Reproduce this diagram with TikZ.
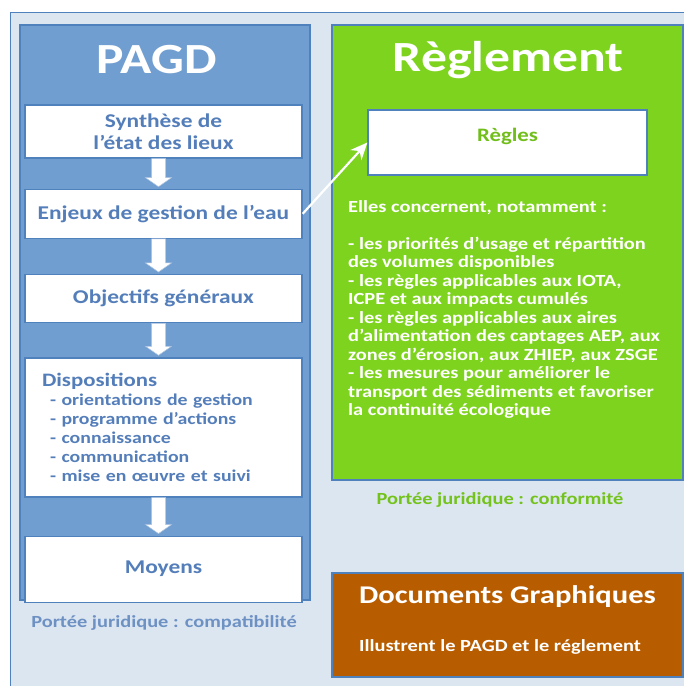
\documentclass[tikz,border=0pt]{standalone}
\usepackage{fontspec}
\setmainfont{Carlito}[FakeStretch=1.2]
\usetikzlibrary{positioning, arrows.meta, calc}

\definecolor{framebg}{RGB}{220,230,241}
\definecolor{frameline}{RGB}{79,129,189}
\definecolor{pagdblue}{RGB}{113,158,208}
\definecolor{pagdtext}{RGB}{84,126,186}
\definecolor{reglgreen}{RGB}{126,211,30}
\definecolor{docorange}{RGB}{184,92,0}

\begin{document}
\begin{tikzpicture}[
    x=1pt, y=-1pt,
    panel/.style={draw=frameline, line width=1.5pt, inner sep=0pt},
    pagdbox/.style={draw=frameline, line width=1.3pt, fill=white, minimum width=277pt, align=center, text=pagdtext, font=\fontsize{19.5}{21.5}\selectfont\bfseries},
    title/.style={text=white, font=\fontsize{43}{46}\selectfont\bfseries},
    downarrow/.style={draw=frameline!45, line width=0.5pt, fill=white},
    link/.style={-{Stealth[length=17pt, width=15pt]}, draw=white, line width=2.2pt}
]

% background frame
\useasboundingbox (0,0) rectangle (684,686);
\draw[fill=framebg, draw=frameline, line width=1pt] (10,12) rectangle (700,700);

% PAGD column
\node[panel, fill=pagdblue, minimum width=290pt, minimum height=575pt] (pagd) at (165,312.5) {};
\node[title] (pagdtitle) at (157,60) {PAGD};

\node[pagdbox, minimum height=53pt] (synth) at (163.5,131.5) {Synthèse de\\l’état des lieux};
\node[pagdbox, minimum height=49pt, below=30pt of synth] (enjeux) {Enjeux de gestion de l’eau};
\node[pagdbox, minimum height=48pt, below=35pt of enjeux] (objectifs) {Objectifs généraux};
\node[pagdbox, minimum height=139pt, below=34pt of objectifs, text width=243pt, align=left,
      font=\fontsize{16.5}{19}\selectfont\bfseries] (dispo)
    {{\fontsize{19}{18}\selectfont Dispositions}\\
     \hspace*{8pt}- orientations de gestion\\
     \hspace*{8pt}- programme d’actions\\
     \hspace*{8pt}- connaissance\\
     \hspace*{8pt}- communication\\
     \hspace*{8pt}- mise en œuvre et suivi};
\node[pagdbox, minimum height=66pt, below=38pt of dispo] (moyens) {Moyens};

% white block arrows between the steps
\foreach \a/\b in {synth/enjeux, enjeux/objectifs, objectifs/dispo, dispo/moyens}
  \draw[downarrow] ($(\a.south)+(-12,0)$) -- ($(\a.south)+(2,0)$)
    -- ($(\b.north)+(2,-11)$) -- ($(\b.north)+(8,-11)$) -- ($(\b.north)+(-5,-2)$)
    -- ($(\b.north)+(-18,-11)$) -- ($(\b.north)+(-12,-11)$) -- cycle;

\node[text=pagdtext!85, font=\fontsize{17}{19}\selectfont\bfseries] (compat) at (164,623) {Portée juridique : compatibilité};

% Reglement column
\node[panel, fill=reglgreen, minimum width=351pt, minimum height=455pt] (regl) at (507.5,252.5) {};
\node[title] (regltitle) at (508,60) {Règlement};

\node[draw=frameline, line width=1.3pt, fill=white, minimum width=279pt, minimum height=65pt,
      text=reglgreen!90!black, font=\fontsize{19}{21}\selectfont\bfseries, text depth=16pt] (regles) at (507.5,142.5) {Règles};

\node[anchor=north west, inner sep=0pt, align=left, text=white, font=\fontsize{17}{18.5}\selectfont\bfseries] (liste) at (348,200)
    {Elles concernent, notamment :\\[18.5pt]
     - les priorités d’usage et répartition\\
     des volumes disponibles\\
     - les règles applicables aux IOTA,\\
     ICPE et aux impacts cumulés\\
     - les règles applicables aux aires\\
     d’alimentation des captages AEP, aux\\
     zones d’érosion, aux ZHIEP, aux ZSGE\\
     - les mesures pour améliorer le\\
     transport des sédiments et favoriser\\
     la continuité écologique};

\node[text=reglgreen!92!black, font=\fontsize{17}{19}\selectfont\bfseries] (conform) at (500,500) {Portée juridique : conformité};

\draw[link] (enjeux.east) -- (regles.west);

% Documents graphiques
\node[panel, fill=docorange, minimum width=351pt, minimum height=104pt] (docs) at (507.5,625) {};
\node[text=white, font=\fontsize{25.5}{27}\selectfont\bfseries] (docstitle) at (507.5,597) {Documents Graphiques};
\node[text=white, font=\fontsize{17}{19}\selectfont\bfseries] (docstext) at (500,647) {Illustrent le PAGD et le réglement};

\end{tikzpicture}
\end{document}
